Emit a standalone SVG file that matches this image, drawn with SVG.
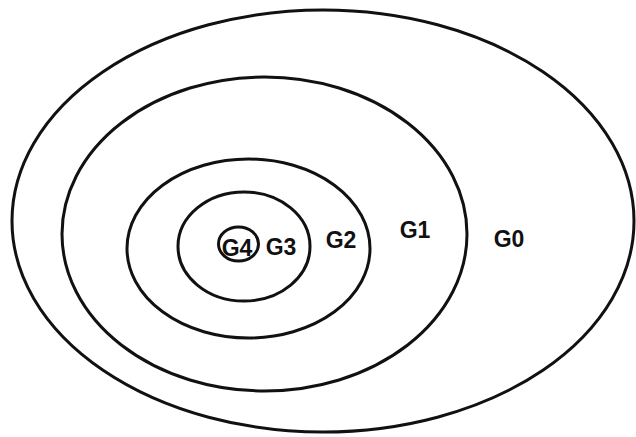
<svg xmlns="http://www.w3.org/2000/svg" width="636" height="437" viewBox="0 0 636 437">
  <style>
    .ring { fill: none; stroke: #111; stroke-width: 3; }
    .lbl { font-family: "Liberation Sans", Arial, Helvetica, sans-serif; font-weight: bold; font-size: 23px; fill: #111; text-anchor: middle; }
  </style>
  <rect width="636" height="437" fill="#ffffff"/>
  <g id="G0">
    <ellipse class="ring" cx="323" cy="221" rx="311" ry="211"/>
    <text class="lbl" x="509" y="247">G0</text>
  </g>
  <g id="G1">
    <ellipse class="ring" cx="264.5" cy="234" rx="202.5" ry="157"/>
    <text class="lbl" x="415" y="238">G1</text>
  </g>
  <g id="G2">
    <ellipse class="ring" cx="248.5" cy="248.5" rx="121.5" ry="89.5"/>
    <text class="lbl" x="341" y="248">G2</text>
  </g>
  <g id="G3">
    <ellipse class="ring" cx="244" cy="246.5" rx="66" ry="54.5"/>
    <text class="lbl" x="281" y="255">G3</text>
  </g>
  <g id="G4">
    <ellipse class="ring" cx="238.5" cy="244" rx="20" ry="17"/>
    <text class="lbl" x="237" y="256">G4</text>
  </g>
  <g id="connectors"/>
</svg>
